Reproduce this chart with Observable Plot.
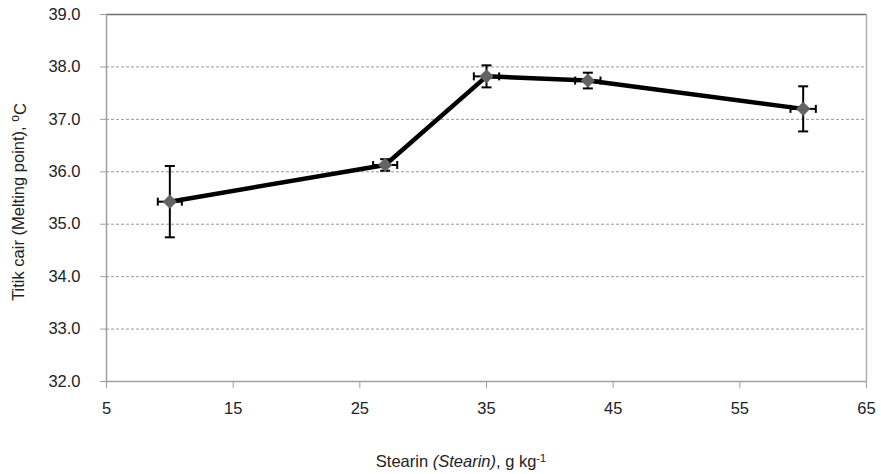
<!DOCTYPE html>
<html>
<head>
<meta charset="utf-8">
<script src="https://cdn.jsdelivr.net/npm/d3@7"></script>
<script src="https://cdn.jsdelivr.net/npm/@observablehq/plot@0.6"></script>
<style>
  html, body { margin: 0; padding: 0; background: #fff; }
  #chart svg { display: block; }
</style>
</head>
<body>
<div id="chart"></div>
<script>
// Data
const stearin = [10.0, 27.0, 35.0, 43.0, 60.0];         // g kg-1
const meltingPoint = [35.43, 36.13, 37.82, 37.74, 37.2]; // °C
const yError = [0.68, 0.11, 0.21, 0.15, 0.43];
const xError = [0.95, 0.95, 1.0, 1.0, 1.0];
const xTicks = [5, 15, 25, 35, 45, 55, 65];
const yTicks = [32, 33, 34, 35, 36, 37, 38, 39];
const gridTicks = [33, 34, 35, 36, 37, 38];
const yTitle = ["Titik cair (Melting point), ", "o", "C"];
const xTitle = ["Stearin ", "(Stearin)", ", g kg", "-1"];

const data = stearin.map((x, i) => ({x, y: meltingPoint[i], ey: yError[i], ex: xError[i]}));

const capH = {draw(ctx) { ctx.moveTo(-5, 0); ctx.lineTo(5, 0); }};
const capV = {draw(ctx) { ctx.moveTo(0, -4); ctx.lineTo(0, 4); }};

const font = "'Liberation Sans Narrow', 'Arial Narrow', 'Liberation Sans', Arial, sans-serif";

const chart = Plot.plot({
  width: 881,
  height: 474,
  marginLeft: 106,
  marginRight: 15,
  marginTop: 14,
  marginBottom: 93,
  style: {fontFamily: font, fontSize: "16.5px", color: "#222", background: "#fff"},
  x: {domain: [5, 65]},
  y: {domain: [32, 39]},
  marks: [
    Plot.gridY(gridTicks, {stroke: "#9a9a9a", strokeOpacity: 1, strokeDasharray: "3,2", strokeWidth: 1}),
    Plot.ruleY([39], {stroke: "#6e6e6e", strokeWidth: 1.5}),
    Plot.ruleX([65], {stroke: "#b0b0b0", strokeWidth: 1.5}),
    Plot.ruleY([32], {stroke: "#a0a0a0", strokeWidth: 1.5}),
    Plot.ruleX([5], {stroke: "#a0a0a0", strokeWidth: 1.5}),
    Plot.axisY({ticks: yTicks, tickSize: 6, tickPadding: 20, tickFormat: d => d.toFixed(1), stroke: "#a0a0a0", label: null, fill: "#222"}),
    Plot.axisX({ticks: xTicks, tickSize: 7, tickPadding: 14, tickFormat: d => String(d), stroke: "#a0a0a0", label: null, fill: "#222"}),
    Plot.line(data, {x: "x", y: "y", stroke: "#000", strokeWidth: 4.5}),
    Plot.ruleX(data, {x: "x", y1: d => d.y - d.ey, y2: d => d.y + d.ey, stroke: "#000", strokeWidth: 2}),
    Plot.ruleY(data, {y: "y", x1: d => d.x - d.ex, x2: d => d.x + d.ex, stroke: "#000", strokeWidth: 2}),
    Plot.dot(data, {x: "x", y: d => d.y + d.ey, symbol: capH, stroke: "#000", strokeWidth: 2, r: 3}),
    Plot.dot(data, {x: "x", y: d => d.y - d.ey, symbol: capH, stroke: "#000", strokeWidth: 2, r: 3}),
    Plot.dot(data, {x: d => d.x - d.ex, y: "y", symbol: capV, stroke: "#000", strokeWidth: 2, r: 3}),
    Plot.dot(data, {x: d => d.x + d.ex, y: "y", symbol: capV, stroke: "#000", strokeWidth: 2, r: 3}),
    Plot.dot(data, {x: "x", y: "y", symbol: "diamond2", r: 6.4, fill: "#636363", stroke: "none"})
  ]
});

const svg = d3.select(chart);
// Y axis title
const yt = svg.append("text")
  .attr("transform", "translate(24,202) rotate(-90)")
  .attr("text-anchor", "middle")
  .attr("fill", "#222")
  .style("font-family", font)
  .style("font-size", "16.5px");
yt.append("tspan").text(yTitle[0]);
yt.append("tspan").attr("dy", "-0.45em").style("font-size", "12px").text(yTitle[1]);
yt.append("tspan").attr("dy", "0.45em").text(yTitle[2]);
// X axis title
const xt = svg.append("text")
  .attr("x", 461).attr("y", 467)
  .attr("text-anchor", "middle")
  .attr("fill", "#222")
  .style("font-family", font)
  .style("font-size", "16.5px");
xt.append("tspan").text(xTitle[0]);
xt.append("tspan").style("font-style", "italic").text(xTitle[1]);
xt.append("tspan").text(xTitle[2]);
xt.append("tspan").attr("dy", "-0.5em").style("font-size", "11px").text(xTitle[3]);

document.getElementById("chart").appendChild(chart);
</script>
</body>
</html>
